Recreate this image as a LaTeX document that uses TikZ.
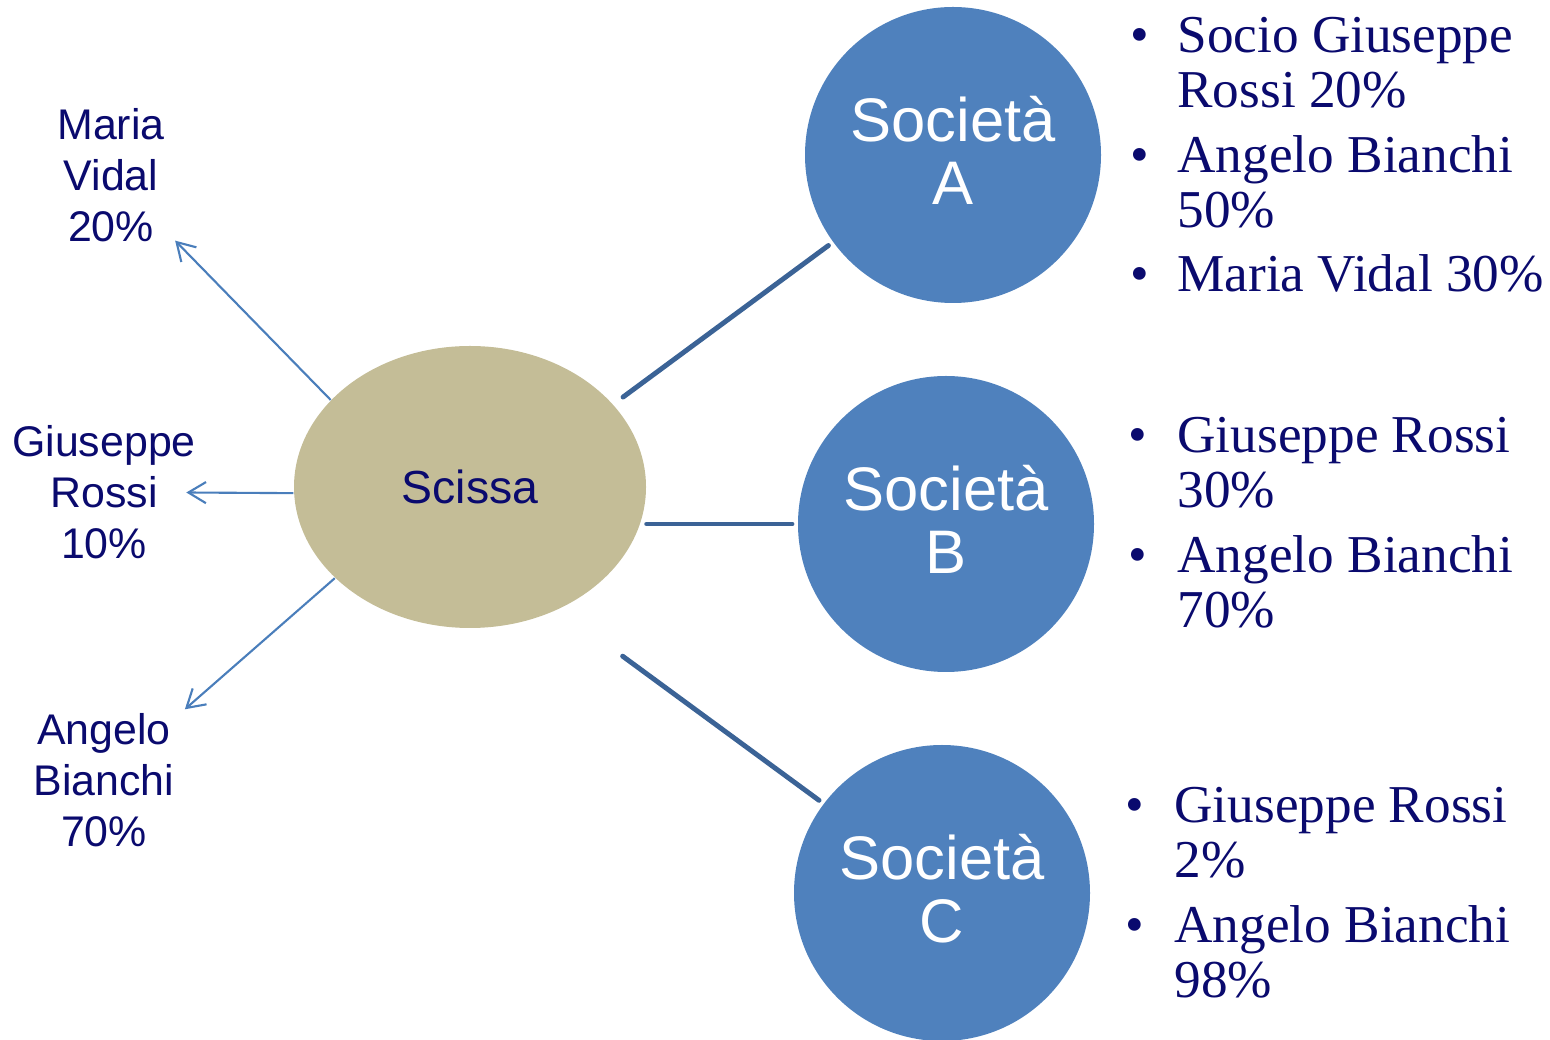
\documentclass[tikz,border=0pt]{standalone}
\usepackage{fontspec}
\setmainfont{Liberation Sans}
\newfontfamily\serifa{Liberation Serif}
\usetikzlibrary{shapes.geometric,arrows.meta}
\definecolor{tan}{HTML}{C4BD97}
\definecolor{blu}{HTML}{4F81BD}
\definecolor{bluscuro}{HTML}{3B6396}
\definecolor{blufreccia}{HTML}{4A7EBB}
\definecolor{navy}{RGB}{10,10,110}
\begin{document}
\begin{tikzpicture}[
  societa/.style={fill=blu, circle, inner sep=0pt, minimum size=2.96cm, outer sep=0.06cm, text=white, align=center, text depth=0.09cm, font=\fontsize{17.5}{18}\selectfont},
  ellisse/.style={fill=tan, ellipse, inner sep=0pt, minimum width=3.52cm, minimum height=2.82cm, text=navy, font=\fontsize{13.2}{16}\selectfont},
  socio/.style={text=navy, align=center, inner sep=0pt, outer sep=3pt, font=\fontsize{12.2}{14.5}\selectfont},
  lista/.style={text=navy, inner sep=0pt, anchor=base west, font=\serifa\fontsize{15.15}{15.6}\selectfont},
  freccia/.style={draw=blufreccia, line width=0.6pt, -{Straight Barb[length=5pt,width=6pt]}},
  legame/.style={draw=bluscuro, line width=1.4pt, line cap=round}]
\useasboundingbox (0,0) rectangle (15.5,10.39);

\node (scissa) at (4.70,5.52) [ellisse] {Scissa};
\node (socA) at (9.53,8.84) [societa] {Società\\A};
\node (socB) at (9.46,5.15) [societa] {Società\\B};
\node (socC) at (9.42,1.46) [societa] {Società\\C};

\node (maria) at (1.11,8.64) [socio] {Maria\\Vidal\\20\%};
\node (giuseppe) at (1.04,5.47) [socio] {Giuseppe\\Rossi\\10\%};
\node (angelo) at (1.04,2.59) [socio] {Angelo\\Bianchi\\70\%};

\draw[freccia] (scissa.148) -- (maria);
\draw[freccia, shorten >=-0.2cm] (scissa.182) -- (giuseppe);
\draw[freccia] (scissa.214) -- (angelo);

\draw[legame, shorten <=0.12cm] (scissa.30) -- (socA.216);
\draw[legame] (socB.west -| scissa.east) -- (socB.west);
\draw[legame, shorten <=0.79cm] (scissa.-54) -- (socC.143.5);

\node (listaA) at (11.30,9.86) [lista] {\begin{tabular}[t]{@{}l@{\hspace{8pt}}l@{}}
\textbullet & Socio Giuseppe\\
 & Rossi 20\%\\[2.8pt]
\textbullet & Angelo Bianchi\\
 & 50\%\\[2.6pt]
\textbullet & Maria Vidal 30\%
\end{tabular}};
\node (listaB) at (11.28,5.86) [lista] {\begin{tabular}[t]{@{}l@{\hspace{8.6pt}}l@{}}
\textbullet & Giuseppe Rossi\\
 & 30\%\\[2.8pt]
\textbullet & Angelo Bianchi\\
 & 70\%
\end{tabular}};
\node (listaC) at (11.25,2.16) [lista] {\begin{tabular}[t]{@{}l@{\hspace{8.6pt}}l@{}}
\textbullet & Giuseppe Rossi\\
 & 2\%\\[2.8pt]
\textbullet & Angelo Bianchi\\
 & 98\%
\end{tabular}};
\end{tikzpicture}
\end{document}
